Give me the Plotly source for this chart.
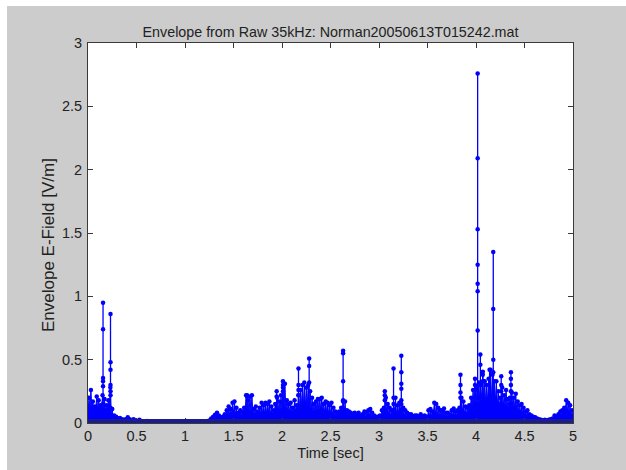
import numpy as np
import plotly.graph_objects as go

# ---------------- data ----------------
step = 0.02  # sample spacing of the envelope table [sec]

# lower (solid) level of the envelope at t = 0, 0.02, ..., 5.00
env_lo = [
    0.08, 0.12, 0.10, 0.08, 0.11, 0.10, 0.09, 0.12, 0.10, 0.09,
    0.10, 0.11, 0.06, 0.035, 0.03, 0.02, 0.025, 0.02, 0.015, 0.015,
    0.02, 0.015, 0.01, 0.012, 0.01, 0.008, 0.01, 0.007, 0.006, 0.006,
    0.006, 0.005, 0.004, 0.005, 0.004, 0.004, 0.004, 0.003, 0.003, 0.003,
    0.003, 0.003, 0.003, 0.003, 0.003, 0.003, 0.003, 0.003, 0.003, 0.003,
    0.004, 0.003, 0.003, 0.003, 0.003, 0.004, 0.003, 0.003, 0.003, 0.003,
    0.004, 0.006, 0.01, 0.015, 0.02, 0.03, 0.035, 0.03, 0.025, 0.03,
    0.04, 0.05, 0.06, 0.06, 0.07, 0.075, 0.06, 0.05, 0.05, 0.05,
    0.06, 0.08, 0.08, 0.08, 0.08, 0.06, 0.06, 0.05, 0.06, 0.07,
    0.07, 0.07, 0.07, 0.08, 0.06, 0.06, 0.07, 0.08, 0.08, 0.09,
    0.10, 0.11, 0.09, 0.08, 0.08, 0.07, 0.08, 0.08, 0.10, 0.11,
    0.12, 0.12, 0.11, 0.12, 0.10, 0.09, 0.08, 0.08, 0.09, 0.09,
    0.09, 0.08, 0.08, 0.08, 0.07, 0.07, 0.06, 0.05, 0.045, 0.05,
    0.06, 0.08, 0.07, 0.05, 0.05, 0.04, 0.035, 0.04, 0.035, 0.04,
    0.035, 0.04, 0.045, 0.04, 0.05, 0.05, 0.04, 0.035, 0.03, 0.03,
    0.035, 0.05, 0.06, 0.08, 0.07, 0.06, 0.05, 0.06, 0.08, 0.06,
    0.07, 0.07, 0.06, 0.05, 0.04, 0.035, 0.035, 0.03, 0.03, 0.03,
    0.03, 0.035, 0.03, 0.03, 0.03, 0.045, 0.05, 0.045, 0.06, 0.06,
    0.055, 0.05, 0.05, 0.05, 0.04, 0.04, 0.04, 0.045, 0.05, 0.045,
    0.05, 0.06, 0.08, 0.08, 0.07, 0.065, 0.07, 0.09, 0.11, 0.13,
    0.14, 0.15, 0.15, 0.17, 0.16, 0.15, 0.16, 0.18, 0.17, 0.16,
    0.16, 0.14, 0.12, 0.13, 0.12, 0.13, 0.11, 0.11, 0.12, 0.11,
    0.11, 0.09, 0.08, 0.08, 0.07, 0.05, 0.05, 0.04, 0.035, 0.03,
    0.025, 0.02, 0.015, 0.012, 0.01, 0.012, 0.01, 0.012, 0.015, 0.018,
    0.03, 0.03, 0.035, 0.045, 0.05, 0.06, 0.08, 0.08, 0.07, 0.05,
    0.03,
]

# upper (peaky) level of the envelope at t = 0.01, 0.03, ..., 4.99
env_hi = [
    0.20, 0.26, 0.17, 0.13, 0.21, 0.18, 0.14, 0.22, 0.19, 0.14,
    0.18, 0.28, 0.11, 0.06, 0.05, 0.035, 0.04, 0.03, 0.025, 0.03,
    0.045, 0.03, 0.02, 0.03, 0.02, 0.015, 0.025, 0.015, 0.01, 0.012,
    0.015, 0.01, 0.008, 0.012, 0.008, 0.006, 0.008, 0.006, 0.005, 0.006,
    0.005, 0.006, 0.004, 0.005, 0.004, 0.006, 0.005, 0.004, 0.006, 0.012,
    0.015, 0.006, 0.005, 0.004, 0.006, 0.012, 0.005, 0.004, 0.005, 0.006,
    0.008, 0.012, 0.02, 0.035, 0.05, 0.065, 0.08, 0.06, 0.04, 0.05,
    0.07, 0.10, 0.13, 0.11, 0.16, 0.17, 0.12, 0.08, 0.10, 0.09,
    0.12, 0.22, 0.18, 0.21, 0.22, 0.11, 0.13, 0.09, 0.12, 0.16,
    0.14, 0.16, 0.15, 0.17, 0.13, 0.10, 0.15, 0.20, 0.17, 0.22,
    0.28, 0.31, 0.18, 0.15, 0.16, 0.12, 0.18, 0.14, 0.22, 0.26,
    0.30, 0.32, 0.28, 0.30, 0.25, 0.20, 0.15, 0.17, 0.19, 0.19,
    0.20, 0.15, 0.17, 0.16, 0.14, 0.16, 0.12, 0.09, 0.08, 0.09,
    0.12, 0.18, 0.17, 0.10, 0.09, 0.08, 0.06, 0.08, 0.07, 0.08,
    0.06, 0.07, 0.09, 0.08, 0.10, 0.11, 0.08, 0.06, 0.05, 0.05,
    0.06, 0.10, 0.12, 0.20, 0.15, 0.12, 0.10, 0.15, 0.20, 0.14,
    0.16, 0.18, 0.12, 0.10, 0.08, 0.07, 0.07, 0.05, 0.06, 0.06,
    0.05, 0.07, 0.05, 0.06, 0.05, 0.10, 0.11, 0.09, 0.16, 0.15,
    0.12, 0.10, 0.10, 0.115, 0.08, 0.08, 0.07, 0.10, 0.115, 0.09,
    0.10, 0.12, 0.20, 0.17, 0.13, 0.12, 0.14, 0.20, 0.26, 0.30,
    0.28, 0.32, 0.30, 0.38, 0.33, 0.30, 0.35, 0.42, 0.38, 0.33,
    0.33, 0.25, 0.20, 0.28, 0.22, 0.26, 0.19, 0.20, 0.24, 0.20,
    0.23, 0.17, 0.14, 0.15, 0.12, 0.09, 0.10, 0.07, 0.06, 0.05,
    0.045, 0.035, 0.03, 0.025, 0.02, 0.025, 0.02, 0.025, 0.03, 0.035,
    0.06, 0.05, 0.07, 0.09, 0.10, 0.12, 0.18, 0.16, 0.14, 0.10,
]

# isolated bursts: time [sec] and the envelope samples along each burst
spike_t = [0.155, 0.232, 1.64, 1.945, 2.01, 2.17, 2.28, 2.63, 3.06, 3.15,
           3.23, 3.84, 3.99, 4.017, 4.045, 4.07, 4.14, 4.178, 4.26, 4.36]
spike_v = [
    [0.15, 0.29, 0.33, 0.355, 0.74, 0.95],
    [0.12, 0.22, 0.25, 0.30, 0.42, 0.48, 0.86],
    [0.10, 0.21, 0.22],
    [0.10, 0.21, 0.25],
    [0.10, 0.25, 0.30, 0.33],
    [0.10, 0.22, 0.26, 0.30, 0.43],
    [0.10, 0.32, 0.45, 0.51],
    [0.10, 0.17, 0.33, 0.55, 0.57],
    [0.10, 0.18, 0.22, 0.25],
    [0.10, 0.20, 0.43],
    [0.10, 0.15, 0.27, 0.31, 0.40, 0.53],
    [0.10, 0.20, 0.24, 0.30, 0.38],
    [0.15, 0.26, 0.35],
    [0.20, 0.73, 1.04, 1.10, 1.25, 1.53, 2.09, 2.76],
    [0.20, 0.46, 0.54],
    [0.20, 0.33, 0.405],
    [0.20, 0.42],
    [0.20, 0.40, 0.50, 0.90, 1.35],
    [0.15, 0.25, 0.30, 0.37],
    [0.15, 0.25, 0.30, 0.35, 0.40],
]

x_ticks = [0, 0.5, 1, 1.5, 2, 2.5, 3, 3.5, 4, 4.5, 5]
x_labels = ["0", "0.5", "1", "1.5", "2", "2.5", "3", "3.5", "4", "4.5", "5"]
y_ticks = [0, 0.5, 1, 1.5, 2, 2.5, 3]
y_labels = ["0", "0.5", "1", "1.5", "2", "2.5", "3"]

title_text = "Envelope from Raw 35kHz: Norman20050613T015242.mat"
x_title = "Time [sec]"
y_title = "Envelope E-Field [V/m]"

# ---------------- build series ----------------
t_lo = np.arange(len(env_lo)) * step
t_hi = t_lo[:-1] + step / 2
ex, ey = [], []
for i in range(len(env_hi)):
    ex += [float(t_lo[i]), float(t_hi[i])]
    ey += [env_lo[i], env_hi[i]]
ex.append(float(t_lo[-1]))
ey.append(env_lo[-1])

sx, sy = [], []
for t, vals in zip(spike_t, spike_v):
    sx += [t] * len(vals) + [None]
    sy += list(vals) + [None]

BLUE = "#0000ff"
FONT = "Liberation Sans, Arial, Helvetica, sans-serif"
TXT = "#222222"

fig = go.Figure()
fig.add_trace(go.Scatter(
    x=ex, y=ey, mode="lines+markers", fill="tozeroy", fillcolor=BLUE,
    line=dict(color=BLUE, width=1), marker=dict(color=BLUE, size=4.5, symbol="circle"),
    showlegend=False, hoverinfo="x+y"))
fig.add_trace(go.Scatter(
    x=sx, y=sy, mode="lines+markers", connectgaps=False,
    line=dict(color=BLUE, width=1.3), marker=dict(color=BLUE, size=4.5, symbol="circle"),
    showlegend=False, hoverinfo="x+y"))

W, H = 626, 470
L, R, T, B = 88, 53, 43, 47
pw, ph = W - L - R, H - T - B

def px_x(p):
    return (p - L) / pw

def px_y(p):
    return (H - B - p) / ph

axis_common = dict(
    showgrid=False, zeroline=False, showline=True, linecolor="#3a3a3a", linewidth=1,
    mirror="ticks", ticks="inside", ticklen=5, tickcolor="#3a3a3a", tickwidth=1,
    tickfont=dict(family=FONT, size=14.5, color=TXT),
)

fig.update_layout(
    width=W, height=H,
    margin=dict(l=L, r=R, t=T, b=B, pad=0),
    paper_bgcolor="#cccccc", plot_bgcolor="#ffffff",
    title=dict(text=title_text, x=0.5, xref="paper", xanchor="center",
               y=1 - 32 / H, yref="container", yanchor="middle",
               font=dict(family=FONT, size=14.3, color=TXT)),
    xaxis=dict(range=[0, 5], tickvals=x_ticks, ticktext=x_labels,
               title=dict(text=x_title, font=dict(family=FONT, size=14.5, color=TXT), standoff=4),
               **axis_common),
    yaxis=dict(range=[0, 3], tickvals=y_ticks, ticktext=y_labels, ticklabelstandoff=2,
               **axis_common),
    annotations=[
        dict(text=y_title, textangle=-90, xref="paper", yref="paper",
             x=px_x(48), y=px_y(245), xanchor="center", yanchor="middle",
             showarrow=False, font=dict(family=FONT, size=17, color=TXT)),
    ],
    shapes=[
        # white border of the exported figure (left and top)
        dict(type="rect", xref="paper", yref="paper", x0=px_x(0), x1=px_x(7), y0=px_y(H), y1=px_y(0),
             fillcolor="#ffffff", line=dict(width=0), layer="above"),
        dict(type="rect", xref="paper", yref="paper", x0=px_x(0), x1=px_x(W), y0=px_y(6), y1=px_y(0),
             fillcolor="#ffffff", line=dict(width=0), layer="above"),
        # dense samples sitting on the zero level
        dict(type="line", xref="paper", yref="paper", x0=0, x1=1, y0=2 / ph, y1=2 / ph,
             line=dict(color="#1c1c8a", width=4), layer="above"),
    ],
)

fig.write_html("out.html")
